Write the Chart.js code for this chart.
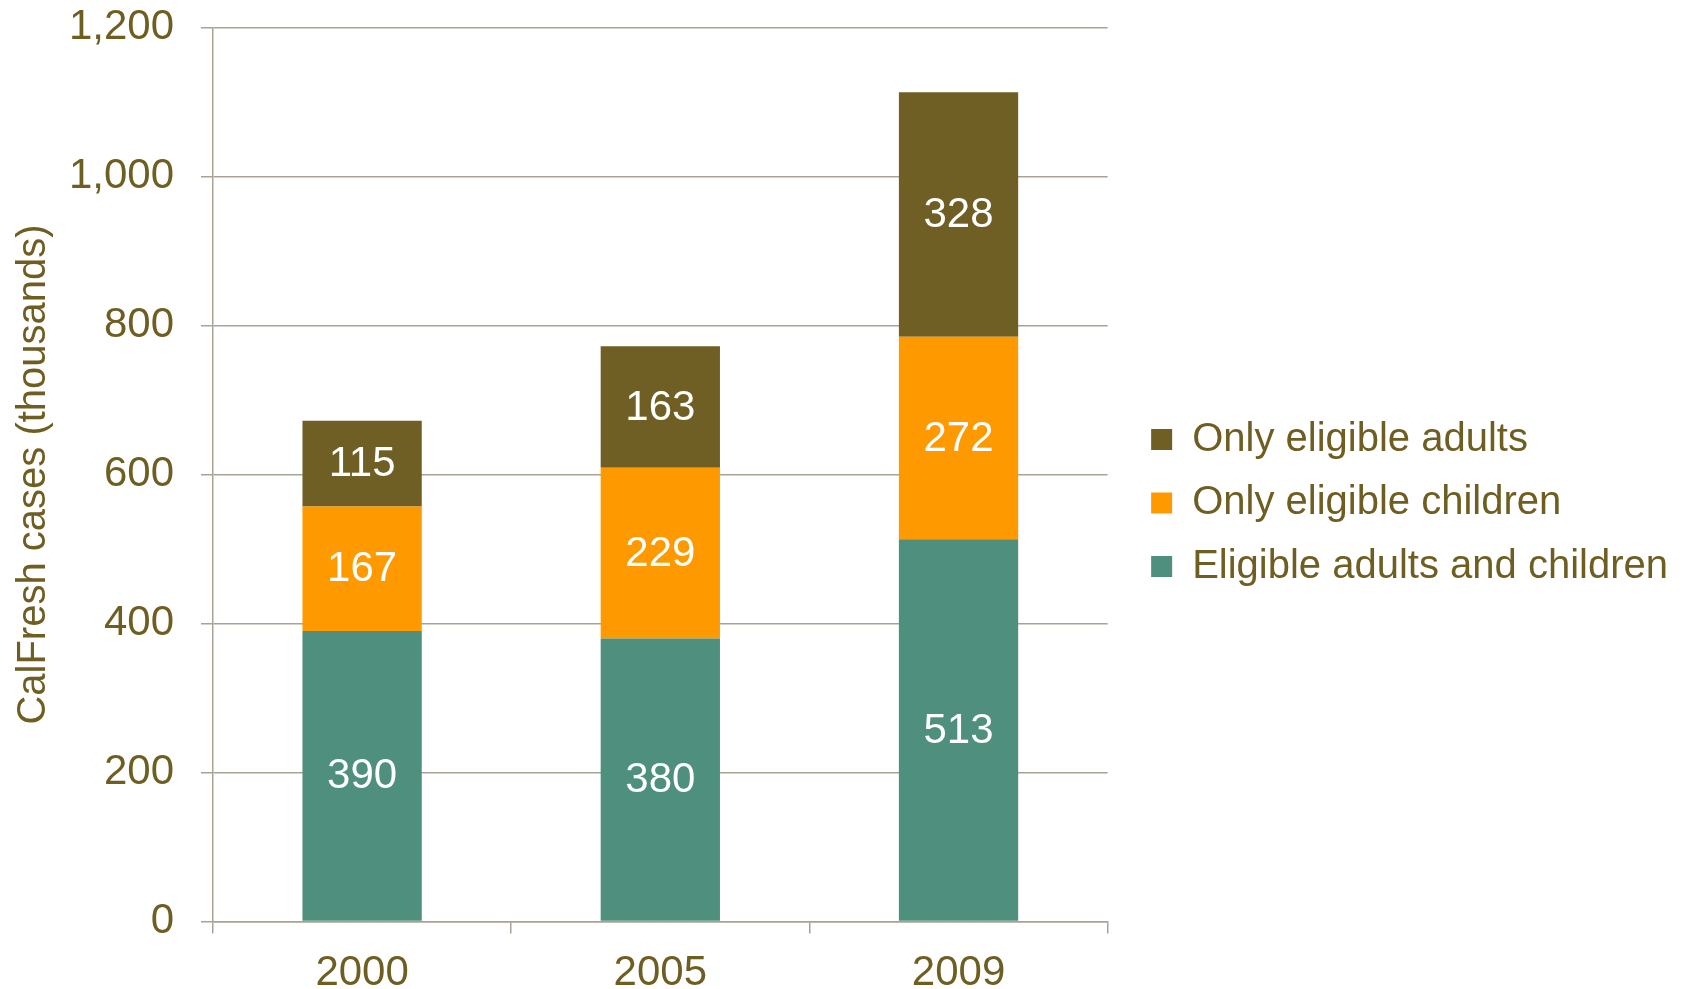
<!DOCTYPE html>
<html>
<head>
<meta charset="utf-8">
<script src="https://cdn.jsdelivr.net/npm/chart.js@4"></script>
<style>
  html, body { margin: 0; padding: 0; background: #fff; }
  #wrap { width: 1686px; height: 989px; position: relative; }
</style>
</head>
<body>
<div id="wrap"><canvas id="myChart"></canvas></div>
<script>
const years = ['2000', '2005', '2009'];
const bothEligible = [390, 380, 513];
const onlyChildren = [167, 229, 272];
const onlyAdults = [115, 163, 328];
const yTicks = [0, 200, 400, 600, 800, 1000, 1200];

const olive = '#705f24';
const orange = '#ff9900';
const teal = '#4f8f7d';
const textColor = '#6e5e22';
const lineColor = '#a9a295';
const fontFamily = '"Liberation Sans", Arial, sans-serif';

// white value labels in the middle of each segment
const segmentLabels = {
    id: 'segmentLabels',
    afterDatasetsDraw(chart) {
        const ctx = chart.ctx;
        ctx.save();
        ctx.font = '42px ' + fontFamily;
        ctx.fillStyle = '#ffffff';
        ctx.textAlign = 'center';
        ctx.textBaseline = 'middle';
        chart.data.datasets.forEach((ds, i) => {
            chart.getDatasetMeta(i).data.forEach((bar, j) => {
                const p = bar.getProps(['x', 'y', 'base'], true);
                ctx.fillText(ds.data[j], p.x, (p.y + p.base) / 2 + 1);
            });
        });
        ctx.restore();
    }
};

// let the legend take the width it needs (layout caps side boxes otherwise)
const wideLegend = {
    id: 'wideLegend',
    beforeLayout(chart) {
        const lg = chart.legend;
        if (lg && !lg._wide) {
            const fit = lg.fit;
            lg.fit = function () { this.maxWidth = 700; return fit.call(this); };
            lg._wide = true;
        }
    }
};

const ctx = document.getElementById('myChart');

new Chart(ctx, {
    type: 'bar',
    data: {
        labels: years,
        datasets: [
            { label: 'Eligible adults and children', data: bothEligible, backgroundColor: teal },
            { label: 'Only eligible children', data: onlyChildren, backgroundColor: orange },
            { label: 'Only eligible adults', data: onlyAdults, backgroundColor: olive }
        ]
    },
    options: {
        responsive: true,
        maintainAspectRatio: false,
        animation: false,
        datasets: { bar: { barPercentage: 0.4, categoryPercentage: 1 } },
        layout: { padding: { top: 2, right: 8, bottom: 0, left: 0 } },
        plugins: {
            tooltip: { enabled: false },
            legend: {
                position: 'right',
                reverse: true,
                title: { display: true, text: '', font: { size: 1 }, padding: { top: 14, bottom: 0 } },
                labels: {
                    boxWidth: 21,
                    boxHeight: 21,
                    padding: 23.5,
                    color: textColor,
                    font: { size: 40, family: fontFamily }
                }
            }
        },
        scales: {
            x: {
                stacked: true,
                grid: { drawOnChartArea: false, drawTicks: true, tickLength: 12, color: lineColor, lineWidth: 1.5, offset: true },
                border: { display: true, color: lineColor, width: 1.5 },
                ticks: { color: textColor, font: { size: 42, family: fontFamily }, padding: 15, maxRotation: 0 },
                afterFit: s => { s.height = 67.5; }
            },
            y: {
                stacked: true,
                min: 0,
                max: 1200,
                afterBuildTicks: s => { s.ticks = yTicks.map(v => ({ value: v })); },
                grid: { color: lineColor, lineWidth: 1.5, tickLength: 12 },
                border: { display: true, color: lineColor, width: 1.5 },
                ticks: { color: textColor, font: { size: 42, family: fontFamily }, padding: 27 },
                title: {
                    display: true,
                    text: 'CalFresh cases (thousands)',
                    color: textColor,
                    font: { size: 40, family: fontFamily },
                    padding: { top: 10, bottom: 0 }
                },
                afterFit: s => { s.width = 213; s.paddingTop = 27.5; s.paddingBottom = 24; }
            },
            gap: {
                type: 'linear',
                position: 'right',
                display: true,
                grid: { display: false },
                border: { display: false },
                ticks: { display: false },
                afterFit: s => { s.width = 20; }
            }
        }
    },
    plugins: [segmentLabels, wideLegend]
});
</script>
</body>
</html>
